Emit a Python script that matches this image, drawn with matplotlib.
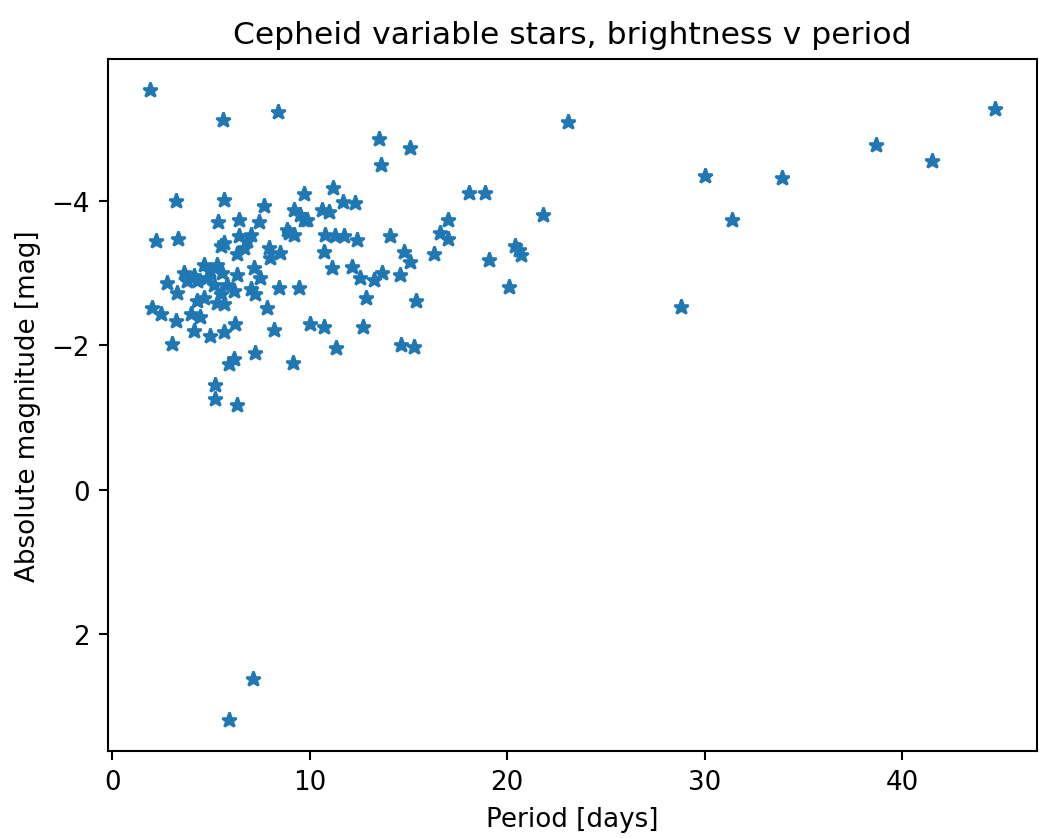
import matplotlib.pyplot as plt
import numpy as np

# Period [days] and absolute magnitude [mag]
period = [1.92, 5.6, 8.4, 23.1, 44.7, 13.5, 15.1, 13.6, 38.7, 41.5, 30.0, 33.9,
          18.05, 18.9, 21.8, 31.4, 17.0, 16.6, 17.0, 16.3, 20.4, 20.6, 20.7, 19.1,
          20.1, 28.8, 15.4, 14.6, 15.3, 5.9, 7.1, 3.2, 2.2, 3.3,
          5.65, 7.7, 9.72, 11.2, 5.34, 6.42, 7.45, 9.52, 9.86, 9.18, 10.6, 8.85,
          9.18, 10.7, 5.65, 6.4, 7.0, 6.66, 6.32, 5.48, 6.83, 7.92, 8.0, 8.5,
          8.93, 4.63, 5.31, 3.62, 4.13, 4.97, 5.56, 2.78, 3.29, 3.79, 4.3, 4.8,
          5.14, 5.81, 6.32, 7.16, 7.5, 7.0, 7.25, 6.15, 5.48, 8.43, 9.44, 4.3,
          4.63, 5.31, 5.65, 3.96, 4.46, 2.02, 2.44, 3.2, 7.84, 4.13, 4.97, 5.65,
          6.23, 8.18, 10.0, 10.7, 3.03, 7.25, 6.15, 5.9, 9.15, 5.22, 5.22, 6.32,
          11.66, 12.3, 10.95, 9.7, 10.78, 11.3, 11.71, 12.39, 14.07, 14.75, 15.08,
          11.12, 12.13, 12.55, 13.23, 13.65, 14.58, 12.86, 12.69, 11.34]
magnitude = [-5.53, -5.12, -5.23, -5.09, -5.28, -4.86, -4.73, -4.5, -4.78, -4.55, -4.34, -4.32,
             -4.11, -4.11, -3.8, -3.74, -3.74, -3.56, -3.47, -3.26, -3.37, -3.32, -3.25, -3.18,
             -2.81, -2.53, -2.62, -2.0, -1.98, 3.18, 2.62, -4.0, -3.44, -3.48,
             -4.02, -3.93, -4.1, -4.18, -3.71, -3.74, -3.71, -3.8, -3.74, -3.88, -3.87, -3.6,
             -3.53, -3.3, -3.42, -3.51, -3.53, -3.35, -3.26, -3.37, -3.44, -3.35, -3.21, -3.28,
             -3.56, -3.12, -3.12, -3.0, -2.96, -3.03, -3.0, -2.87, -2.73, -2.89, -2.89, -2.93,
             -2.84, -2.84, -2.98, -3.07, -2.93, -2.78, -2.71, -2.75, -2.71, -2.8, -2.8, -2.62,
             -2.66, -2.59, -2.57, -2.43, -2.39, -2.52, -2.43, -2.34, -2.52, -2.2, -2.13, -2.18,
             -2.29, -2.22, -2.29, -2.25, -2.02, -1.9, -1.81, -1.74, -1.75, -1.45, -1.26, -1.17,
             -3.99, -3.97, -3.85, -3.74, -3.53, -3.51, -3.51, -3.46, -3.51, -3.3, -3.16,
             -3.07, -3.09, -2.93, -2.91, -3.0, -2.98, -2.66, -2.25, -1.97]

DPI = 188
fig = plt.figure(figsize=(1039 / DPI, 839 / DPI), dpi=DPI)
ax = fig.add_axes([0.104, 0.1037, 0.894, 0.8248])

ax.plot(period, magnitude, '*', linestyle='none')
ax.invert_yaxis()

ax.set_title('Cepheid variable stars, brightness v period')
ax.set_xlabel('Period [days]')
ax.set_ylabel('Absolute magnitude [mag]')

plt.savefig('out.png', dpi=DPI)
plt.close(fig)
